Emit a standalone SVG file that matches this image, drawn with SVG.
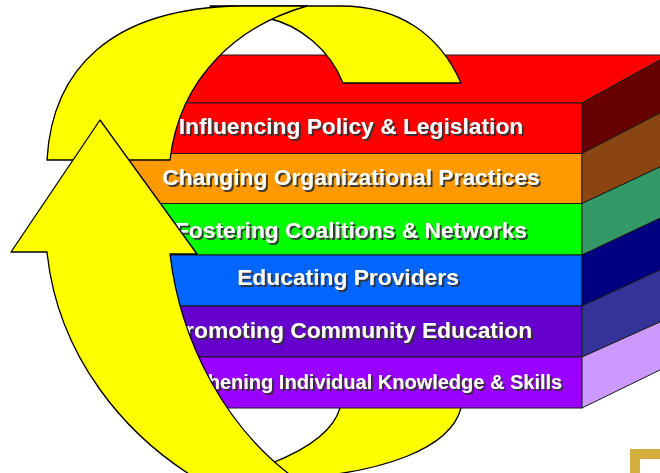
<svg xmlns="http://www.w3.org/2000/svg" width="660" height="473" viewBox="0 0 660 473">
<defs>
<style>
.ar{fill:#FFFF00;stroke:#000;stroke-width:1.3;stroke-linejoin:round}
.f{stroke:#1a1a1a;stroke-width:1;stroke-linejoin:miter}
.t{font-family:"Liberation Sans",Arial,sans-serif;font-weight:bold;fill:#fff;text-anchor:middle;font-size:22.8px;filter:url(#sh)}
</style>
<filter id="sh" x="-5%" y="-30%" width="110%" height="160%"><feDropShadow dx="2" dy="2" stdDeviation="0.6" flood-color="#333" flood-opacity="0.9"/></filter>
</defs>
<rect width="660" height="473" fill="#fff"/>

<g id="arrow-back">
<path class="ar" d="M345,395 L340,408 C333,432 305,450 272,463 L230,485 L300,485 L300,478 C380,472 450,450 461,408 L465,395 Z"/>
</g>

<g id="box-top">
<polygon class="f" fill="#FF0000" points="140,55 664,55 664,57.8 582,103 140,103"/>
</g>

<g id="layer-policy">
<rect class="f" fill="#FF0000" x="140" y="103" width="442" height="50.5"/>
<polygon class="f" fill="#660000" points="582,103 664,57.8 664,111 582,153.5"/>
<text class="t" x="351" y="134">Influencing Policy &amp; Legislation</text>
</g>
<g id="layer-organizational">
<rect class="f" fill="#FF9900" x="110" y="153.5" width="472" height="50"/>
<polygon class="f" fill="#8B4513" points="582,153.5 664,111 664,165.1 582,203.5"/>
<text class="t" x="351" y="185">Changing Organizational Practices</text>
</g>
<g id="layer-coalitions">
<rect class="f" fill="#00FF00" x="110" y="203.5" width="472" height="51.5"/>
<polygon class="f" fill="#339966" points="582,203.5 664,165.1 664,216.4 582,255"/>
<text class="t" x="351" y="238">Fostering Coalitions &amp; Networks</text>
</g>
<g id="layer-providers">
<rect class="f" fill="#0066FF" x="110" y="255" width="472" height="51"/>
<polygon class="f" fill="#000080" points="582,255 664,216.4 664,268.2 582,306"/>
<text class="t" x="348" y="285">Educating Providers</text>
</g>
<g id="layer-community">
<rect class="f" fill="#6600CC" x="110" y="306" width="472" height="51"/>
<polygon class="f" fill="#333399" points="582,306 664,268.2 664,320.2 582,357"/>
<text class="t" x="351" y="338">Promoting Community Education</text>
</g>
<g id="layer-individual">
<rect class="f" fill="#9900FF" x="140" y="357" width="442" height="51"/>
<polygon class="f" fill="#CC99FF" points="582,357 664,320.2 664,368 582,408"/>
<text class="t" x="350" y="389" style="font-size:20px">Strengthening Individual Knowledge &amp; Skills</text>
</g>

<g id="arrow-front">
<path class="ar" d="M343,83 L461,83 C440,35 400,6 340,6 L210,6 C230,7 250,14 267,18 C300,25 330,50 343,83 Z"/>
<path class="ar" d="M47,160 C52,70 110,8 240,6 L307,6 C240,25 180,75 170,160 Z"/>
<path class="ar" d="M100,120 L197,254 L170,254 C180,340 225,430 300,482 L300,492 L220,492 C120,440 57,350 47,252 L11,252 Z"/>
</g>

<g id="corner-frame">
<rect x="635" y="454" width="100" height="100" fill="none" stroke="#D4AE3C" stroke-width="10"/>
</g>
</svg>
